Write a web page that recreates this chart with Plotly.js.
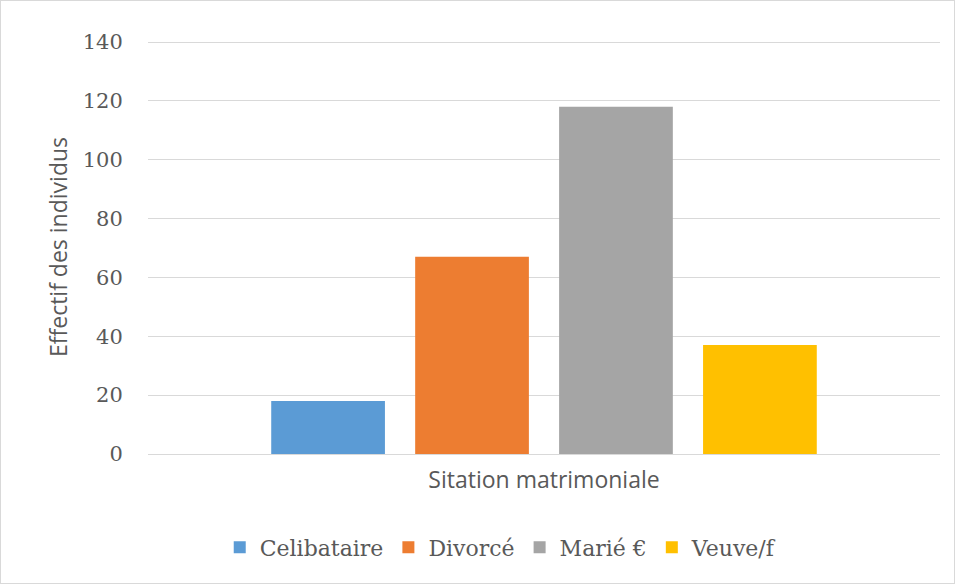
<!DOCTYPE html>
<html>
<head>
<meta charset="utf-8">
<script src="https://cdn.plot.ly/plotly-3.0.1.min.js"></script>
<style>
html,body{margin:0;padding:0;background:#fff;}
#frame{position:absolute;left:0;top:0;width:955px;height:584px;box-sizing:border-box;border:1px solid #d9d9d9;}
#chart{position:absolute;left:0;top:0;width:955px;height:584px;}
</style>
</head>
<body>
<div id="chart"></div>
<div id="frame"></div>
<script>
const categories = ["Sitation matrimoniale"];
const seriesNames = ["Celibataire", "Divorcé", "Marié €", "Veuve/f"];
const celibataire = [18];
const divorce = [67];
const marie = [118];
const veuve = [37];
const seriesValues = [celibataire, divorce, marie, veuve];
const seriesColors = ["#5b9bd5", "#ed7d31", "#a5a5a5", "#ffc000"];
const yTicks = [0, 20, 40, 60, 80, 100, 120, 140];

const traces = seriesNames.map((name, i) => ({
  type: "bar",
  name: name,
  x: categories,
  y: seriesValues[i],
  marker: {color: seriesColors[i]},
  hoverinfo: "none"
}));

const layout = {
  width: 955,
  height: 584,
  paper_bgcolor: "#ffffff",
  plot_bgcolor: "#ffffff",
  margin: {l: 148, r: 15, t: 40, b: 130},
  barmode: "group",
  bargap: 0.273,
  bargroupgap: 0.21,
  showlegend: true,
  legend: {
    orientation: "h",
    x: 0.446, xanchor: "center",
    y: -0.226, yanchor: "middle",
    font: {family: "DejaVu Serif", size: 22, color: "#595959"},
    itemwidth: 30,
    traceorder: "normal"
  },
  xaxis: {
    type: "category",
    showgrid: false,
    showline: false,
    zeroline: false,
    ticks: "outside",
    ticklen: 5,
    tickcolor: "rgba(0,0,0,0)",
    tickfont: {family: "Open Sans", size: 23, color: "#595959"},
    fixedrange: true
  },
  yaxis: {
    range: [0, 140.68],
    tickvals: yTicks,
    ticktext: yTicks.map(String),
    showgrid: true,
    gridcolor: "#d9d9d9",
    gridwidth: 1,
    zeroline: true,
    zerolinecolor: "#d9d9d9",
    zerolinewidth: 1,
    showline: false,
    ticks: "outside",
    ticklen: 20,
    tickcolor: "rgba(0,0,0,0)",
    tickfont: {family: "DejaVu Serif", size: 21, color: "#595959"},
    title: {text: "Effectif des individus", font: {family: "Open Sans", size: 23, color: "#595959"}, standoff: 8},
    automargin: false,
    fixedrange: true
  }
};

Plotly.newPlot("chart", traces, layout, {displayModeBar: false, staticPlot: true});
</script>
</body>
</html>
